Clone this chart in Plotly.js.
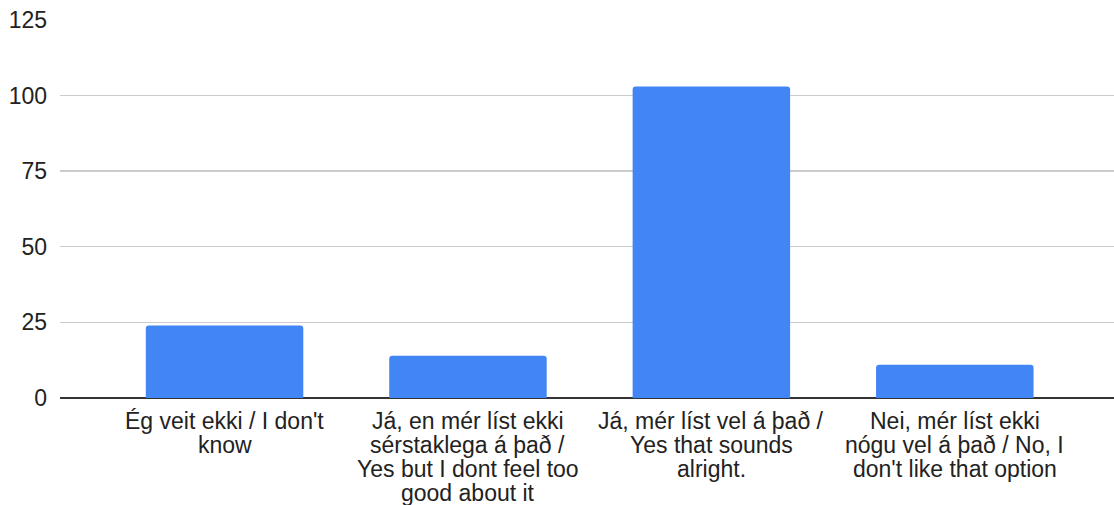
<!DOCTYPE html>
<html>
<head>
<meta charset="utf-8">
<script src="https://cdn.plot.ly/plotly-3.0.1.min.js"></script>
<style>html,body{margin:0;padding:0;background:#fff;}#chart{width:1114px;height:505px;}</style>
</head>
<body>
<div id="chart"></div>
<script>
var categories = ["cat0", "cat1", "cat2", "cat3"];
var labelLines = [
  ["Ég veit ekki / I don't", "know"],
  ["Já, en mér líst ekki", "sérstaklega á það /", "Yes but I dont feel too", "good about it"],
  ["Já, mér líst vel á það /", "Yes that sounds", "alright."],
  ["Nei, mér líst ekki", "nógu vel á það / No, I", "don't like that option"]
];
var values = [24, 14, 103, 11];
var yTicks = [0, 25, 50, 75, 100, 125];

var FONT = "Arial, 'Liberation Sans', sans-serif";
var annotations = [];
labelLines.forEach(function (lines, ci) {
  lines.forEach(function (line, li) {
    annotations.push({
      x: categories[ci], y: 0, xref: 'x', yref: 'y',
      text: line, showarrow: false,
      xanchor: 'center', yanchor: 'middle',
      yshift: -23 - li * 24,
      font: {family: FONT, size: 23, color: '#222'}
    });
  });
});

var trace = {
  type: 'bar',
  x: categories,
  y: values,
  marker: {color: '#4285F4', cornerradius: 3},
  hoverinfo: 'none'
};

var layout = {
  width: 1114, height: 505,
  margin: {l: 60, r: 0, t: 19, b: 107},
  paper_bgcolor: '#fff', plot_bgcolor: '#fff',
  bargap: 0.353,
  showlegend: false,
  xaxis: {
    range: [-0.676, 3.654],
    showticklabels: false, showgrid: false, zeroline: false, ticks: ''
  },
  yaxis: {
    range: [0, 125.3],
    tickvals: yTicks,
    ticktext: yTicks.map(String),
    showgrid: true, gridcolor: '#cccccc', gridwidth: 1.3,
    zeroline: true, zerolinecolor: '#333333', zerolinewidth: 1.5,
    ticks: '', ticklabelstandoff: 12,
    tickfont: {family: FONT, size: 23, color: '#222'}
  },
  annotations: annotations
};

Plotly.newPlot('chart', [trace], layout, {displayModeBar: false, staticPlot: true});
</script>
</body>
</html>
